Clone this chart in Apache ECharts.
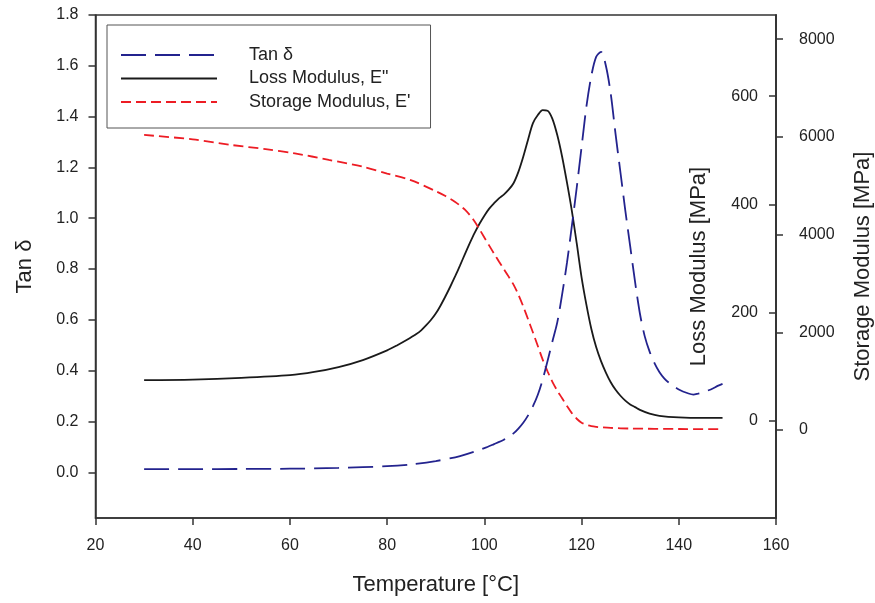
<!DOCTYPE html>
<html>
<head>
<meta charset="utf-8">
<script src="https://cdn.jsdelivr.net/npm/echarts@6/dist/echarts.min.js"></script>
<style>
  html, body { margin: 0; padding: 0; background: #fff; }
  #chart { width: 875px; height: 603px; }
</style>
</head>
<body>
<div id="chart"></div>
<script>
// DMA sweep: tan delta, loss modulus E'' and storage modulus E' versus temperature
const tanT = [30,40,50,60,70,80,85,90,95,100,102,104,105,106,107,108,109,110,111,112,113,114,115,116,117,118,119,120,121,122,123,124,125,126,127,128,129,130,131,132,133,134,135,136,137,138,140,142,143,144,145,146,147,148,149];
const tanV = [0.012,0.012,0.013,0.014,0.017,0.024,0.031,0.044,0.064,0.095,0.111,0.128,0.14,0.153,0.172,0.195,0.224,0.26,0.305,0.365,0.438,0.515,0.59,0.70,0.825,0.97,1.12,1.28,1.44,1.56,1.635,1.655,1.60,1.49,1.33,1.18,1.03,0.89,0.75,0.625,0.535,0.475,0.43,0.395,0.37,0.352,0.326,0.31,0.306,0.31,0.315,0.322,0.33,0.34,0.348];

const lossT = [30,40,50,60,65,70,75,80,82,84,86,87,88,89,90,91,92,93,94,95,96,97,98,99,100,101,102,103,104,105,106,107,108,109,110,111,112,113,114,115,116,117,118,119,120,121,122,123,124,125,126,127,128,129,130,131,132,134,136,140,145,149];
const lossV = [75,76,79,84,90,99,112,130,139,149,160,167,176,186,198,213,230,248,267,287,308,328,347,364,379,392,402,411,418,427,439,460,488,520,550,565,574,573,558,528,488,440,388,328,265,214,170,136,110,89,71,57,46,37,30,25,20,13,9,6,5,5];

const storT = [30,40,48,55,61,68,75,80,85,90,92,94,95,96,97,98,99,100,101,102,103,104,105,106,107,108,109,110,111,112,113,114,115,116,117,118,119,120,121,122,123,124,126,130,140,149];
const storV = [6040,5950,5834,5750,5664,5530,5390,5250,5110,4890,4790,4670,4595,4510,4400,4270,4110,3940,3775,3610,3450,3295,3140,2975,2770,2530,2265,1995,1720,1440,1200,985,805,650,490,345,230,150,105,80,65,55,42,30,20,18];

const xTicks = [20,40,60,80,100,120,140,160];
const tanTicks = [0,0.2,0.4,0.6,0.8,1.0,1.2,1.4,1.6,1.8];
const lossTicks = [0,200,400,600];
const storTicks = [0,2000,4000,6000,8000];

const seriesNames = ['Tan \u03b4', 'Loss Modulus, E"', "Storage Modulus, E'"];

const pairs = (xs, ys) => xs.map((x, i) => [x, ys[i]]);

const FONT = "'Liberation Sans', Arial, sans-serif";
const AX = '#333';
const txt = { color: '#222', fontFamily: FONT, fontSize: 16 };
const plain = v => String(v);

const chart = echarts.init(document.getElementById('chart'), null, { renderer: 'canvas' });

chart.setOption({
  backgroundColor: '#fff',
  animation: false,
  textStyle: { fontFamily: FONT },
  grid: {
    left: 95.5, right: 99, top: 15, bottom: 85,
    containLabel: false, outerBoundsMode: 'none',
    show: true, borderColor: AX, borderWidth: 1.5, backgroundColor: 'transparent'
  },
  legend: {
    orient: 'vertical',
    left: 107, top: 25,
    padding: [20, 20, 16, 13],
    itemWidth: 96, itemHeight: 14, itemGap: 3.5,
    borderColor: '#555', borderWidth: 1,
    backgroundColor: '#fff',
    itemStyle: { opacity: 0, borderWidth: 0 },
    textStyle: { color: '#222', fontFamily: FONT, fontSize: 18, lineHeight: 20, padding: [0, 0, 0, 27] },
    data: seriesNames
  },
  xAxis: {
    type: 'value', min: 20, max: 160, interval: 20,
    name: 'Temperature [\u00b0C]', nameLocation: 'middle', nameGap: 56,
    nameTextStyle: { color: '#222', fontFamily: FONT, fontSize: 22 },
    axisLine: { show: true, onZero: false, lineStyle: { color: AX, width: 1.5 } },
    axisTick: { show: true, length: 7, lineStyle: { color: AX, width: 1.5 }, customValues: xTicks },
    axisLabel: Object.assign({ margin: 20, customValues: xTicks }, txt),
    splitLine: { show: false }
  },
  yAxis: [
    {
      type: 'value', min: -0.18, max: 1.8, position: 'left',
      name: 'Tan \u03b4', nameLocation: 'middle', nameGap: 60, nameRotate: 90,
      nameTextStyle: { color: '#222', fontFamily: FONT, fontSize: 22 },
      axisLine: { show: true, onZero: false, lineStyle: { color: AX, width: 1.5 } },
      axisTick: { show: true, length: 7, lineStyle: { color: AX, width: 1.5 }, customValues: tanTicks },
      axisLabel: Object.assign({ margin: 17, customValues: tanTicks, formatter: v => v.toFixed(1) }, txt),
      splitLine: { show: false }
    },
    {
      type: 'value', min: -180, max: 750, position: 'right',
      name: 'Loss Modulus [MPa]', nameLocation: 'middle', nameGap: -88, nameRotate: 90,
      nameTextStyle: { color: '#222', fontFamily: FONT, fontSize: 22 },
      axisLine: { show: true, onZero: false, lineStyle: { color: AX, width: 1.5 } },
      axisTick: { show: true, inside: true, length: 7, lineStyle: { color: AX, width: 1.5 }, customValues: lossTicks },
      axisLabel: Object.assign({ inside: true, margin: 18, customValues: lossTicks, formatter: plain }, txt),
      splitLine: { show: false }
    },
    {
      type: 'value', min: -1802, max: 8496, position: 'right', offset: 0,
      name: 'Storage Modulus [MPa]', nameLocation: 'middle', nameGap: 76, nameRotate: 90,
      nameTextStyle: { color: '#222', fontFamily: FONT, fontSize: 22 },
      axisLine: { show: true, onZero: false, lineStyle: { color: AX, width: 1.5 } },
      axisTick: { show: true, length: 7, lineStyle: { color: AX, width: 1.5 }, customValues: storTicks },
      axisLabel: Object.assign({ margin: 23, customValues: storTicks, formatter: plain }, txt),
      splitLine: { show: false }
    }
  ],
  series: [
    {
      name: seriesNames[0], type: 'line', yAxisIndex: 0,
      data: pairs(tanT, tanV),
      smooth: 0.3, showSymbol: false, symbol: 'none',
      lineStyle: { color: '#23238e', width: 1.8, type: [25, 9] },
      itemStyle: { color: '#23238e' }, z: 3
    },
    {
      name: seriesNames[1], type: 'line', yAxisIndex: 1,
      data: pairs(lossT, lossV),
      smooth: 0.3, showSymbol: false, symbol: 'none',
      lineStyle: { color: '#1a1a1a', width: 1.8, type: 'solid' },
      itemStyle: { color: '#1a1a1a' }, z: 2
    },
    {
      name: seriesNames[2], type: 'line', yAxisIndex: 2,
      data: pairs(storT, storV),
      smooth: 0.3, showSymbol: false, symbol: 'none',
      lineStyle: { color: '#ed1c24', width: 1.8, type: [10, 5] },
      itemStyle: { color: '#ed1c24' }, z: 2
    }
  ]
});
</script>
</body>
</html>
